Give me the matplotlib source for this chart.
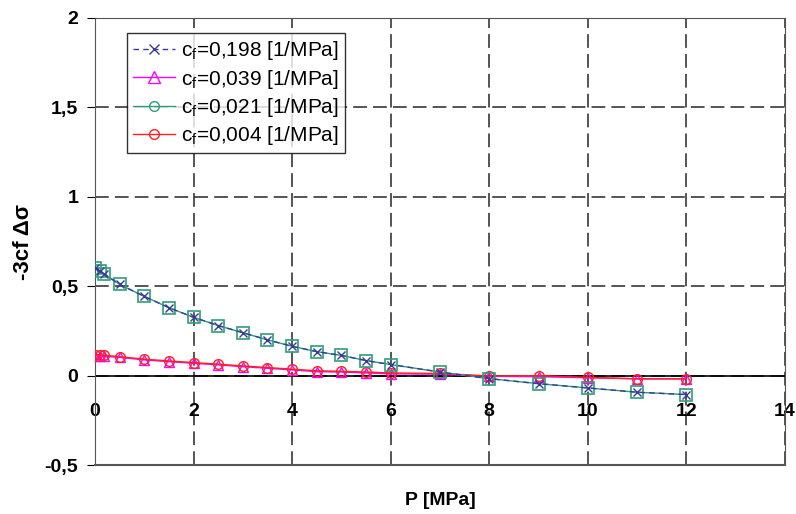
import matplotlib.pyplot as plt
from matplotlib.lines import Line2D

plt.rcParams['font.family'] = ['Liberation Sans', 'DejaVu Sans']
plt.rcParams['mathtext.default'] = 'regular'

# presion [MPa]
p_alto = [0, 0.1, 0.18, 0.5, 1, 1.5, 2, 2.5, 3, 3.5, 4, 4.5, 5, 5.5, 6, 7, 8, 9, 10, 11, 12]
# cf = 0,198 y cf = 0,021 (casi iguales)
y_198 = [0.60, 0.585, 0.57, 0.51, 0.443, 0.38, 0.326, 0.28, 0.24, 0.20, 0.164, 0.134,
         0.113, 0.084, 0.062, 0.02, -0.017, -0.045, -0.069, -0.093, -0.106]
y_021 = [0.60, 0.585, 0.57, 0.51, 0.443, 0.38, 0.326, 0.28, 0.24, 0.20, 0.164, 0.134,
         0.113, 0.084, 0.062, 0.02, -0.017, -0.045, -0.069, -0.093, -0.106]
# cf = 0,039 y cf = 0,004
y_039 = [0.112, 0.11, 0.108, 0.102, 0.088, 0.078, 0.069, 0.06, 0.05, 0.041, 0.032, 0.022,
         0.02, 0.015, 0.01, 0.008, -0.004, -0.006, -0.012, -0.018, -0.018]
y_004 = [0.118, 0.116, 0.114, 0.106, 0.092, 0.082, 0.073, 0.064, 0.054, 0.045, 0.036, 0.027,
         0.024, 0.02, 0.015, 0.012, -0.002, 0.0, -0.01, -0.018, -0.018]

etiquetas = ['c$_f$=0,198 [1/MPa]', 'c$_f$=0,039 [1/MPa]',
             'c$_f$=0,021 [1/MPa]', 'c$_f$=0,004 [1/MPa]']

azul = '#3a3a9e'
magenta = '#ff00ff'
verde = '#2e9e78'
rojo = '#ff2020'

fig = plt.figure(figsize=(7.96, 5.14), dpi=100)
ax = fig.add_axes([0.1193, 0.0953, 0.8669, 0.8697])

# lineas
ax.plot(p_alto, y_039, color=magenta, lw=1, marker='^', ms=7, mfc='none', mec=magenta, mew=1, zorder=3)
ax.plot(p_alto, y_004, color=rojo, lw=1, marker='o', ms=7, mfc='none', mec=rojo, mew=1, zorder=4)
ax.plot(p_alto, y_021, color=verde, lw=1, marker='s', ms=8, mfc='none', mec=verde, mew=1.2, zorder=5)
ax.plot(p_alto, y_198, color=azul, lw=1, ls=(0, (4, 3)), marker='x', ms=6, mec=azul, mew=1, zorder=6)

ax.set_xlim(0, 14)
ax.set_ylim(-0.5, 2)
ax.set_xticks(range(0, 15, 2))
ax.set_yticks([-0.5, 0, 0.5, 1, 1.5, 2])
ax.set_yticklabels(['-0,5', '0', '0,5', '1', '1,5', '2'])

# grilla
ax.grid(True, color='black', ls=(0, (9, 4)), lw=1.1, alpha=0.85)
ax.axhline(0, color='black', lw=1.2, zorder=2)

ax.spines['bottom'].set_position(('data', 0))
ax.spines['bottom'].set_visible(False)
for lado in ['left', 'right', 'top']:
    ax.spines[lado].set_color('#555555')
ax.axhline(-0.5, color='#555555', lw=1.5, clip_on=False)

ax.tick_params(axis='x', length=0, pad=20, labelsize=14)
ax.tick_params(axis='y', length=6, direction='out', pad=6, labelsize=14, right=False)
for t in ax.get_xticklabels() + ax.get_yticklabels():
    t.set_fontweight('bold')

ax.set_ylabel('-3cf Δσ', fontsize=16, fontweight='bold')
ax.yaxis.set_label_coords(-0.088, 0.5)
ax.set_xlabel('P [MPa]', fontsize=14, fontweight='bold', labelpad=0)
ax.xaxis.set_label_coords(0.5, -0.06)

manijas = [
    Line2D([], [], color=azul, lw=1, ls=(0, (4, 3)), marker='x', ms=7, mew=1),
    Line2D([], [], color=magenta, lw=1, marker='^', ms=8, mfc='none', mew=1),
    Line2D([], [], color=verde, lw=1, marker='o', ms=7, mfc='none', mew=1),
    Line2D([], [], color=rojo, lw=1, marker='o', ms=7, mfc='none', mew=1),
]
leg = ax.legend(manijas, etiquetas, loc='upper left', bbox_to_anchor=(0.046, 0.966),
                borderaxespad=0, fontsize=15, frameon=True, fancybox=False, edgecolor='black',
                handlelength=2.0, handletextpad=0.3, borderpad=0.3, labelspacing=0.25)
leg.get_frame().set_linewidth(1)

fig.savefig('out.png', dpi=100)
